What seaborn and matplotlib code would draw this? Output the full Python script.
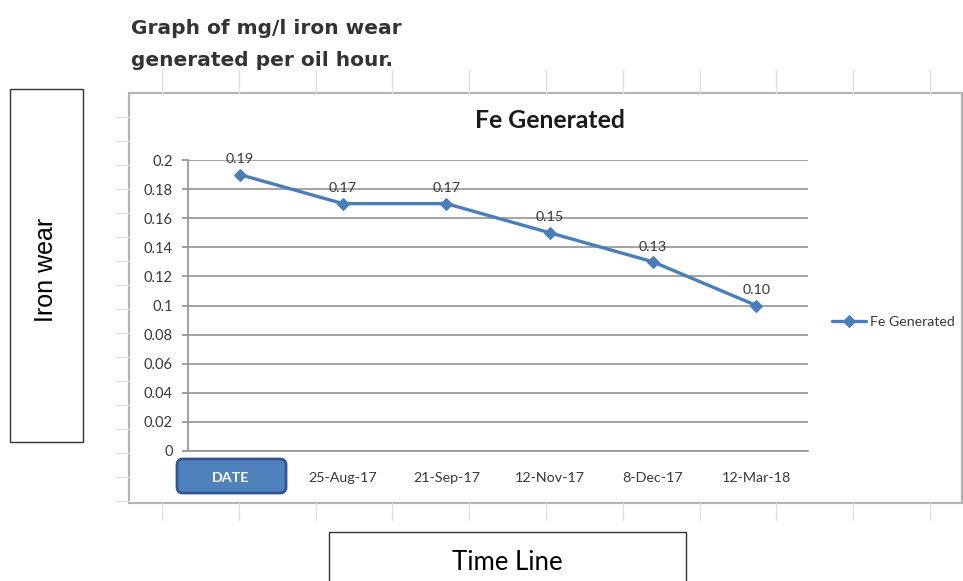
import numpy as np
import pandas as pd
import seaborn as sns
import matplotlib.pyplot as plt
from matplotlib.patches import Rectangle, FancyBboxPatch
from matplotlib.lines import Line2D
from matplotlib.transforms import ScaledTranslation

# data
dates = ["DATE", "25-Aug-17", "21-Sep-17", "12-Nov-17", "8-Dec-17", "12-Mar-18"]
fe_generated = [0.19, 0.17, 0.17, 0.15, 0.13, 0.10]
y_ticks = [0, 0.02, 0.04, 0.06, 0.08, 0.1, 0.12, 0.14, 0.16, 0.18, 0.2]

df = pd.DataFrame({"Date": dates, "Fe Generated": fe_generated})

sns.set_theme(style="white")
plt.rcParams["font.family"] = ["Lato", "DejaVu Sans"]

W, H = 963, 581
fig = plt.figure(figsize=(W / 100, H / 100), dpi=100)


def fx(px):
    return px / W


def fy(py):
    return 1 - py / H


# faint spreadsheet cell lines behind the chart
cell = "#e0e0e0"
for k in range(11):
    x = fx(162 + 76.8 * k)
    fig.add_artist(Line2D([x, x], [fy(70), fy(93)], color=cell, lw=1))
    fig.add_artist(Line2D([x, x], [fy(503), fy(520)], color=cell, lw=1))
for k in range(17):
    y = fy(117 + 24 * k)
    fig.add_artist(Line2D([fx(115), fx(129)], [y, y], color=cell, lw=1))

# chart area frame
fig.add_artist(Rectangle((fx(129), fy(503)), fx(962) - fx(129), fy(93) - fy(503),
                         fill=True, fc="white", ec="#b3b3b3", lw=1.6, zorder=0))

ax = fig.add_axes([fx(188), fy(451), fx(808) - fx(188), fy(160) - fy(451)])

sns.lineplot(data=df, x="Date", y="Fe Generated", sort=False, ax=ax,
             color="#4A7EBB", lw=2.4, marker="D", markersize=6,
             markeredgecolor="#4A7EBB", label="Fe Generated", legend=False)

ax.set_xlim(-0.5, len(dates) - 0.5)
ax.set_ylim(0, 0.2)
ax.set_yticks(y_ticks)
ax.set_yticklabels([f"{v:g}" for v in y_ticks])
ax.set_xticks(range(len(dates)))
ax.set_xticklabels(dates)
ax.set_xticks(np.arange(-0.5, len(dates), 1), minor=True)
ax.set_xlabel("")
ax.set_ylabel("")

ax.grid(axis="y", color="#939393", lw=1.2)
ax.grid(axis="x", visible=False)
for s in ["top", "right"]:
    ax.spines[s].set_visible(False)
for s in ["left", "bottom"]:
    ax.spines[s].set_color("#939393")
    ax.spines[s].set_linewidth(1.2)

ax.tick_params(axis="x", which="major", length=0, pad=15, labelsize=10.3, labelcolor="#383838")
ax.tick_params(axis="x", which="minor", length=3, color="#939393", direction="out")
ax.tick_params(axis="y", length=4, color="#939393", pad=7, labelsize=10.5, labelcolor="#383838")
ax.tick_params(axis="y", left=True)

# blue DATE button over the first category label (drawn in inches)
ax.add_patch(FancyBboxPatch((1.77, 0.88), 1.09, 0.34,
                            boxstyle="round,pad=0,rounding_size=0.06",
                            transform=fig.dpi_scale_trans, clip_on=False,
                            fc="#4F81BD", ec="#2F5597", lw=2, zorder=0.1))
first = ax.get_xticklabels()[0]
first.set_color("white")
first.set_fontweight("bold")
first.set_transform(first.get_transform() + ScaledTranslation(-0.09, 0, fig.dpi_scale_trans))

# data labels
for i, v in enumerate(fe_generated):
    ax.annotate(f"{v:.2f}", (i, v), xytext=(0, 11), textcoords="offset points",
                ha="center", va="center", fontsize=10.3, color="#383838")

# legend to the right of the plot
ax.legend(loc="center left", bbox_to_anchor=(fx(832), fy(322)),
          bbox_transform=fig.transFigure, frameon=False, fontsize=10.2,
          handlelength=2.4, handletextpad=0.3, borderpad=0, borderaxespad=0,
          labelcolor="#383838")

# titles
fig.text(fx(550), fy(120), "Fe Generated", ha="center", va="center",
         fontsize=17.8, fontweight="bold", color="#1a1a1a")
fig.text(fx(131), fy(29), "Graph of mg/l iron wear", ha="left", va="center",
         fontsize=14.5, fontweight="bold", family=["DejaVu Sans"], color="#333333")
fig.text(fx(131), fy(61), "generated per oil hour.", ha="left", va="center",
         fontsize=14.5, fontweight="bold", family=["DejaVu Sans"], color="#333333")

# side box "Iron wear"
fig.add_artist(Rectangle((fx(10), fy(442)), fx(83) - fx(10), fy(89) - fy(442),
                         fill=False, ec="#333333", lw=1))
fig.text(fx(46), fy(270), "Iron wear", rotation=90, ha="center", va="center",
         fontsize=18, family=["Liberation Sans", "DejaVu Sans"], color="black")

# bottom box "Time Line"
fig.add_artist(Rectangle((fx(329), fy(595)), fx(686) - fx(329), fy(532) - fy(595),
                         fill=False, ec="#333333", lw=1, clip_on=False))
fig.text(fx(507), fy(562), "Time Line", ha="center", va="center",
         fontsize=18.5, color="black")

fig.savefig("out.png", dpi=100)
